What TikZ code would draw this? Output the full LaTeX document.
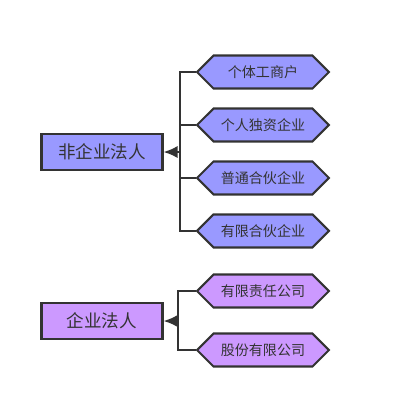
\documentclass[tikz,border=0pt]{standalone}
\usepackage{fontspec}
\setmainfont{Noto Sans CJK SC}
\usetikzlibrary{shapes.symbols,arrows.meta}
\definecolor{feifill}{HTML}{9999FF}
\definecolor{qifill}{HTML}{CC99FF}
\definecolor{edge}{HTML}{333333}
\begin{document}
\begin{tikzpicture}[x=0.02cm, y=-0.02cm, node distance=1.06cm, line width=1.2pt, draw=edge, >={Latex[length=8pt,width=7pt]}]
        \tikzstyle{rootbox} = [rectangle, draw=edge, text=edge, minimum width=2.42cm, minimum height=0.72cm, font=\fontsize{10pt}{12pt}\selectfont]
        \tikzstyle{hexa} = [signal, signal to=west and east, draw=edge, text=edge, minimum width=2.64cm, minimum height=0.66cm, inner sep=1pt, font=\fontsize{8pt}{10pt}\selectfont]
        \useasboundingbox (0,0) rectangle (400,417);

        % 非企业法人
        \node[rootbox, fill=feifill] (fei) at (102,152) {非企业法人};
        \node[hexa, fill=feifill] (geti) at (263,72) {个体工商户};
        \node[hexa, fill=feifill, below of = geti] (duzi) {个人独资企业};
        \node[hexa, fill=feifill, below of = duzi] (putong) {普通合伙企业};
        \node[hexa, fill=feifill, below of = putong] (youxian) {有限合伙企业};
        \coordinate (j1) at (180,152);

        % 企业法人
        \node[rootbox, fill=qifill] (qi) at (102,321) {企业法人};
        \node[hexa, fill=qifill] (zeren) at (263,291) {有限责任公司};
        \node[hexa, fill=qifill] (gufen) at (263,350) {股份有限公司};
        \coordinate (j2) at (178,321);

        % Lignes
        \draw[edge] (geti.west) -| (j1);
        \draw[edge] (youxian.west) -| (j1);
        \draw[edge] (duzi.west) -- (duzi.west -| j1);
        \draw[edge] (putong.west) -- (putong.west -| j1);
        \draw[edge, ->] (j1) -- (fei.east);
        \draw[edge] (zeren.west) -| (j2);
        \draw[edge] (gufen.west) -| (j2);
        \draw[edge, ->] (j2) -- (qi.east);
    \end{tikzpicture}
\end{document}
